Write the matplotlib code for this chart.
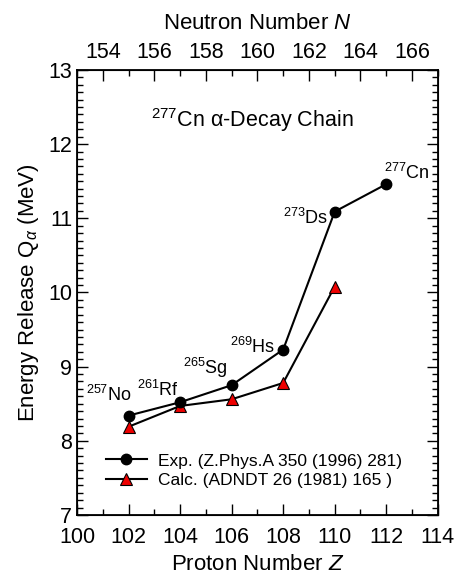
import numpy as np
import matplotlib
matplotlib.use('Agg')
import matplotlib.pyplot as plt
from matplotlib.ticker import MultipleLocator

plt.rcParams['font.family'] = ['Liberation Sans', 'DejaVu Sans']
plt.rcParams['mathtext.fontset'] = 'custom'
plt.rcParams['mathtext.rm'] = 'Liberation Sans'
plt.rcParams['mathtext.it'] = 'Liberation Sans:italic'

# data
z_exp = [102, 104, 106, 108, 110, 112]
q_exp = [8.34, 8.52, 8.75, 9.23, 11.09, 11.46]
z_calc = [102, 104, 106, 108, 110]
q_calc = [8.19, 8.47, 8.56, 8.78, 10.08]
nuclides = ['257No', '261Rf', '265Sg', '269Hs', '273Ds', '277Cn']

fig = plt.figure(figsize=(4.57, 5.78), dpi=100)
ax = fig.add_axes([0.1685, 0.109, 0.7895, 0.770])

ax.plot(z_exp, q_exp, '-o', color='black', mfc='black', mec='black', ms=7.5, lw=1.5,
        label='Exp. (Z.Phys.A 350 (1996) 281)', zorder=3)
ax.plot(z_calc, q_calc, '-^', color='black', mfc='#ee0000', mec='black', mew=0.8, ms=9, lw=1.5,
        label='Calc. (ADNDT 26 (1981) 165 )', zorder=2)

# nuclide labels: (dx, dy) offsets in data units
offs = [(-0.76, 0.28), (-0.88, 0.17), (-1.02, 0.23), (-1.2, 0.04), (-1.14, -0.09), (0.8, 0.15)]
for z, q, name, (dx, dy) in zip(z_exp, q_exp, nuclides, offs):
    a, el = name[:3], name[3:]
    ax.text(z + dx, q + dy, r'$^{%s}$%s' % (a, el), fontsize=13, ha='center', va='center')

ax.text(0.485, 0.888, r'$^{277}$Cn α-Decay Chain', transform=ax.transAxes, fontsize=15.5,
        ha='center', va='center')

ax.set_xlim(100, 114)
ax.set_ylim(7, 13)
ax.xaxis.set_major_locator(MultipleLocator(2))
ax.xaxis.set_minor_locator(MultipleLocator(1))
ax.yaxis.set_major_locator(MultipleLocator(1))
ax.yaxis.set_minor_locator(MultipleLocator(0.1))
ax.tick_params(which='both', direction='in', top=False, right=True, labelsize=15.5)
ax.tick_params(which='major', length=8, width=1)
ax.tick_params(which='minor', length=4.5, width=1)
ax.tick_params(axis='x', pad=9)
for s in ax.spines.values():
    s.set_linewidth(1.3)

ax.set_xlabel('Proton Number $Z$', fontsize=16, labelpad=4)
ax.set_ylabel(r'Energy Release Q$_{\mathit{\alpha}}$ (MeV)', fontsize=16, labelpad=5)

top = ax.twiny()
top.set_xlim(153, 167)
top.xaxis.set_major_locator(MultipleLocator(2))
top.xaxis.set_minor_locator(MultipleLocator(1))
top.tick_params(which='both', direction='in', labelsize=15.5, pad=5)
top.tick_params(which='major', length=8, width=1)
top.tick_params(which='minor', length=4.5, width=1)
top.set_xlabel('Neutron Number $N$', fontsize=16, labelpad=9)

ax.legend(loc='lower left', bbox_to_anchor=(0.06, 0.045), frameon=False, fontsize=12.5,
          handlelength=2.4, borderaxespad=0, labelspacing=0.25, handletextpad=0.6)

fig.savefig('out.png', dpi=100)
